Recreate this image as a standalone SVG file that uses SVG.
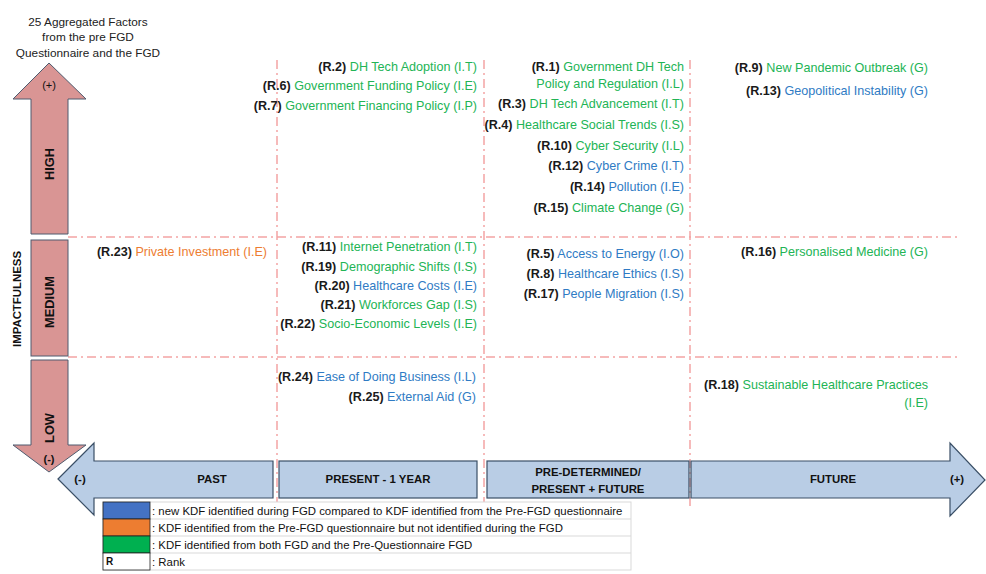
<svg xmlns="http://www.w3.org/2000/svg" width="986" height="574" viewBox="0 0 986 574">
<style>
text{font-family:"Liberation Sans",Arial,sans-serif;}
.t{font-size:12.6px;text-anchor:end;}
.r{font-weight:bold;fill:#1a1a1a;}
.g{fill:#22b455;}
.b{fill:#2f7bc4;}
.o{fill:#ed7d31;}
.grid{stroke:#f4a4a4;stroke-width:1.5;stroke-dasharray:9,4,2,4;fill:none;}
.pink{fill:#d99594;stroke:#4f5b6e;stroke-width:1;}
.blue{fill:#b9cde5;stroke:#3a4f66;stroke-width:1.2;}
.ax{font-size:11.4px;font-weight:bold;text-anchor:middle;fill:#111;}
.vx{font-size:12.8px;font-weight:bold;text-anchor:middle;fill:#111;}
.lg{font-size:11.4px;fill:#111;}
</style>
<g id="grid">
<line class="grid" x1="277" y1="60" x2="277" y2="510"/>
<line class="grid" x1="484" y1="60" x2="484" y2="510"/>
<line class="grid" x1="690" y1="60" x2="690" y2="510"/>
<line class="grid" x1="68" y1="237" x2="960" y2="237"/>
<line class="grid" x1="68" y1="357" x2="960" y2="357"/>
</g>
<g id="title">
<text x="88" y="26" font-size="11.8" text-anchor="middle" fill="#222">25 Aggregated Factors</text>
<text x="88" y="41" font-size="11.8" text-anchor="middle" fill="#222">from the pre FGD</text>
<text x="88" y="57" font-size="11.8" text-anchor="middle" fill="#222">Questionnaire and the FGD</text>
</g>
<g id="impact-axis">
<polygon class="pink" points="49,63 86,99 68,99 68,234 31,234 31,99 13,99"/>
<rect class="pink" x="31" y="240" width="37" height="116"/>
<polygon class="pink" points="31,360 68,360 68,445 86,445 49,472 13,445 31,445"/>
<text x="49" y="89" font-size="11" text-anchor="middle" fill="#111">(+)</text>
<text transform="translate(54,164) rotate(-90)" class="vx">HIGH</text>
<text transform="translate(54,302) rotate(-90)" class="vx">MEDIUM</text>
<text transform="translate(54,428) rotate(-90)" class="vx">LOW</text>
<text x="49" y="463" font-size="11" font-weight="bold" text-anchor="middle" fill="#111">(-)</text>
<text transform="translate(21,299) rotate(-90)" class="ax">IMPACTFULNESS</text>
</g>
<g id="time-axis">
<polygon class="blue" points="58,479 94,443 94,461 273,461 273,498 94,498 94,515"/>
<rect class="blue" x="279" y="461" width="198" height="37"/>
<rect class="blue" x="487" y="461" width="202" height="37"/>
<polygon class="blue" points="691,461 950,461 950,443 985,480 950,516 950,498 691,498"/>
<text x="80" y="483" class="ax" font-weight="normal">(-)</text>
<text x="212" y="483" class="ax">PAST</text>
<text x="378" y="483" class="ax">PRESENT - 1 YEAR</text>
<text x="588" y="476" class="ax">PRE-DETERMINED/</text>
<text x="588" y="493" class="ax">PRESENT + FUTURE</text>
<text x="833" y="483" class="ax">FUTURE</text>
<text x="957" y="483" class="ax" font-weight="normal">(+)</text>
</g>
<g id="high-present">
<text class="t" x="477" y="71"><tspan class="r">(R.2)</tspan><tspan class="g"> DH Tech Adoption (I.T)</tspan></text>
<text class="t" x="477" y="90"><tspan class="r">(R.6)</tspan><tspan class="g"> Government Funding Policy (I.E)</tspan></text>
<text class="t" x="477" y="110"><tspan class="r">(R.7)</tspan><tspan class="g"> Government Financing Policy (I.P)</tspan></text>
</g>
<g id="high-predetermined">
<text class="t" x="684" y="71"><tspan class="r">(R.1)</tspan><tspan class="g"> Government DH Tech</tspan></text>
<text class="t g" x="684" y="88">Policy and Regulation (I.L)</text>
<text class="t" x="684" y="108"><tspan class="r">(R.3)</tspan><tspan class="g"> DH Tech Advancement (I.T)</tspan></text>
<text class="t" x="684" y="129"><tspan class="r">(R.4)</tspan><tspan class="g"> Healthcare Social Trends (I.S)</tspan></text>
<text class="t" x="684" y="150"><tspan class="r">(R.10)</tspan><tspan class="g"> Cyber Security (I.L)</tspan></text>
<text class="t" x="684" y="170"><tspan class="r">(R.12)</tspan><tspan class="b"> Cyber Crime (I.T)</tspan></text>
<text class="t" x="684" y="191"><tspan class="r">(R.14)</tspan><tspan class="b"> Pollution (I.E)</tspan></text>
<text class="t" x="684" y="212"><tspan class="r">(R.15)</tspan><tspan class="g"> Climate Change (G)</tspan></text>
</g>
<g id="high-future">
<text class="t" x="928" y="72"><tspan class="r">(R.9)</tspan><tspan class="g"> New Pandemic Outbreak (G)</tspan></text>
<text class="t" x="928" y="95"><tspan class="r">(R.13)</tspan><tspan class="b"> Geopolitical Instability (G)</tspan></text>
</g>
<g id="medium-past">
<text class="t" x="267" y="256"><tspan class="r">(R.23)</tspan><tspan class="o"> Private Investment (I.E)</tspan></text>
</g>
<g id="medium-present">
<text class="t" x="477" y="251"><tspan class="r">(R.11)</tspan><tspan class="g"> Internet Penetration (I.T)</tspan></text>
<text class="t" x="477" y="271"><tspan class="r">(R.19)</tspan><tspan class="g"> Demographic Shifts (I.S)</tspan></text>
<text class="t" x="477" y="290"><tspan class="r">(R.20)</tspan><tspan class="b"> Healthcare Costs (I.E)</tspan></text>
<text class="t" x="477" y="309"><tspan class="r">(R.21)</tspan><tspan class="g"> Workforces Gap (I.S)</tspan></text>
<text class="t" x="477" y="328"><tspan class="r">(R.22)</tspan><tspan class="g"> Socio-Economic Levels (I.E)</tspan></text>
</g>
<g id="medium-predetermined">
<text class="t" x="684" y="258"><tspan class="r">(R.5)</tspan><tspan class="b"> Access to Energy (I.O)</tspan></text>
<text class="t" x="684" y="278"><tspan class="r">(R.8)</tspan><tspan class="b"> Healthcare Ethics (I.S)</tspan></text>
<text class="t" x="684" y="298"><tspan class="r">(R.17)</tspan><tspan class="b"> People Migration (I.S)</tspan></text>
</g>
<g id="medium-future">
<text class="t" x="928" y="256"><tspan class="r">(R.16)</tspan><tspan class="g"> Personalised Medicine (G)</tspan></text>
</g>
<g id="low-present">
<text class="t" x="476" y="381"><tspan class="r">(R.24)</tspan><tspan class="b"> Ease of Doing Business (I.L)</tspan></text>
<text class="t" x="476" y="401"><tspan class="r">(R.25)</tspan><tspan class="b"> External Aid (G)</tspan></text>
</g>
<g id="low-future">
<text class="t" x="928" y="389"><tspan class="r">(R.18)</tspan><tspan class="g"> Sustainable Healthcare Practices</tspan></text>
<text class="t g" x="928" y="407">(I.E)</text>
</g>
<g id="legend">
<rect x="103" y="502" width="528" height="68" fill="#fff" stroke="#d9d9d9" stroke-width="1"/>
<line x1="150" y1="519" x2="631" y2="519" stroke="#d9d9d9"/>
<line x1="150" y1="536" x2="631" y2="536" stroke="#d9d9d9"/>
<line x1="150" y1="553" x2="631" y2="553" stroke="#d9d9d9"/>
<rect x="103" y="502" width="47" height="17" fill="#4472c4" stroke="#222" stroke-width="0.8"/>
<rect x="103" y="519" width="47" height="17" fill="#ed7d31" stroke="#222" stroke-width="0.8"/>
<rect x="103" y="536" width="47" height="17" fill="#00b050" stroke="#222" stroke-width="0.8"/>
<rect x="103" y="553" width="47" height="17" fill="#fff" stroke="#222" stroke-width="0.8"/>
<text x="106" y="565" font-size="10" font-weight="bold" fill="#111">R</text>
<text class="lg" x="152" y="515">: new KDF identified during FGD compared to KDF identified from the Pre-FGD questionnaire</text>
<text class="lg" x="152" y="532">: KDF identified from the Pre-FGD questionnaire but not identified during the FGD</text>
<text class="lg" x="152" y="549">: KDF identified from both FGD and the Pre-Questionnaire FGD</text>
<text class="lg" x="152" y="566">: Rank</text>
</g>
</svg>
